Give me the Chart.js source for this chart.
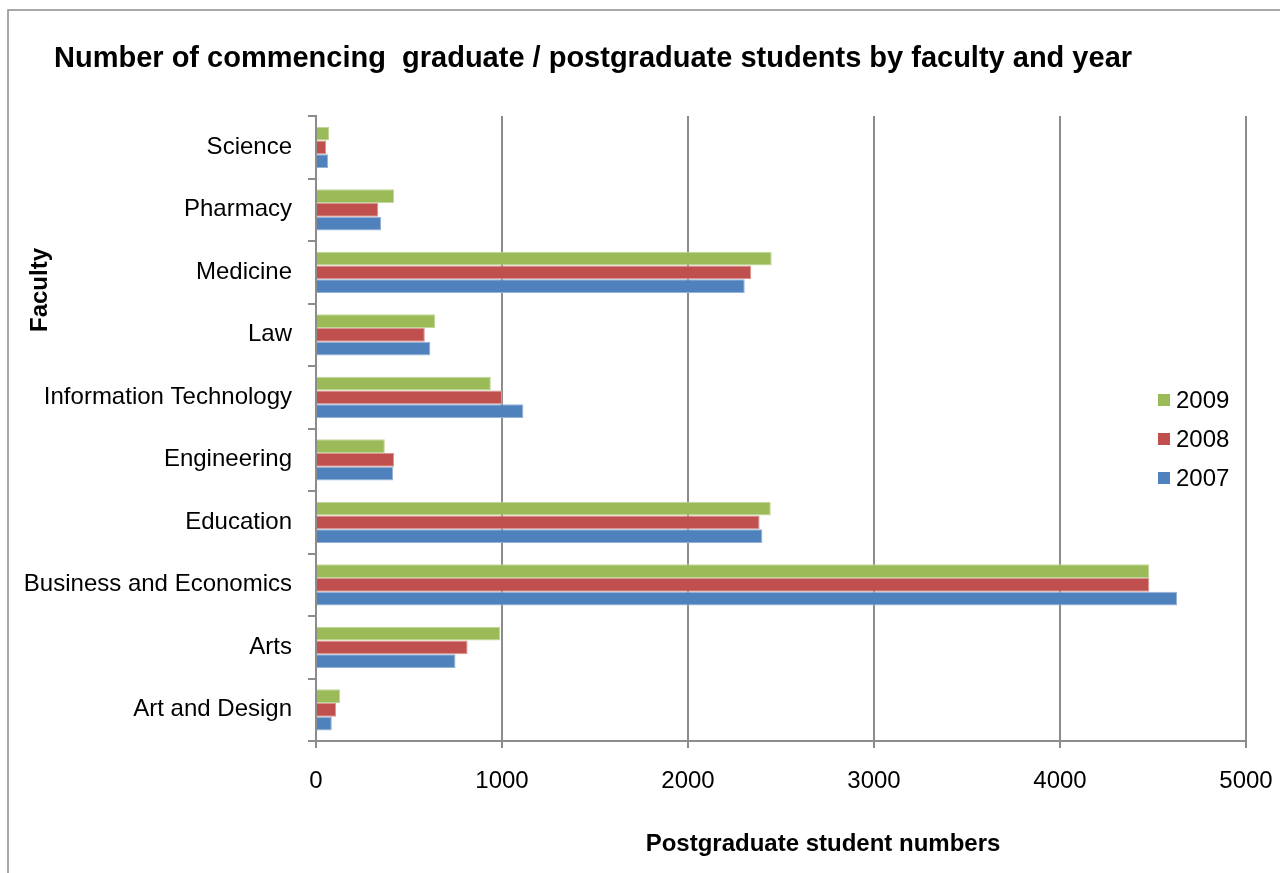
<!DOCTYPE html>
<html>
<head>
<meta charset="utf-8">
<title>Commencing postgraduate students by faculty</title>
<script src="https://cdn.jsdelivr.net/npm/chart.js@4/dist/chart.umd.min.js"></script>
<style>
  body { margin: 0; background: #fff; }
  #wrap { width: 1280px; height: 873px; }
</style>
</head>
<body>
<div id="wrap"><canvas id="chart-canvas" width="1280" height="873"></canvas></div>
<script>
// Chart data (faculties listed top to bottom as shown)
const faculties = ['Science', 'Pharmacy', 'Medicine', 'Law', 'Information Technology',
  'Engineering', 'Education', 'Business and Economics', 'Arts', 'Art and Design'];
const years = ['2009', '2008', '2007'];
const students2009 = [70, 420, 2450, 640, 940, 370, 2445, 4480, 990, 130];
const students2008 = [55, 335, 2340, 585, 1000, 420, 2385, 4480, 815, 108];
const students2007 = [65, 350, 2305, 615, 1115, 415, 2400, 4630, 750, 85];

const chartTitle = 'Number of commencing  graduate / postgraduate students by faculty and year';
const xTitle = 'Postgraduate student numbers';
const yTitle = 'Faculty';

const FONT = '"Liberation Sans", Arial, sans-serif';
const GRID = '#8c8c8c';

// Draws frame, titles and the in-plot legend
const decorations = {
  id: 'decorations',
  beforeDraw(chart) {
    const ctx = chart.ctx;
    ctx.save();
    ctx.fillStyle = '#fff';
    ctx.fillRect(0, 0, chart.width, chart.height);
    ctx.strokeStyle = GRID;
    ctx.lineWidth = 1.5;
    ctx.strokeRect(8, 10, 1400, 1000);
    ctx.restore();
  },
  afterDraw(chart) {
    const ctx = chart.ctx;
    ctx.save();
    ctx.fillStyle = '#000';
    ctx.textBaseline = 'middle';

    ctx.font = 'bold 29px ' + FONT;
    ctx.textAlign = 'left';
    ctx.fillText(chartTitle, 54, 59);

    ctx.font = 'bold 24px ' + FONT;
    ctx.textAlign = 'center';
    ctx.fillText(xTitle, 823, 844);

    ctx.translate(40, 290);
    ctx.rotate(-Math.PI / 2);
    ctx.fillText(yTitle, 0, 0);
    ctx.restore();

    // legend
    ctx.save();
    ctx.font = '24px ' + FONT;
    ctx.textBaseline = 'middle';
    ctx.textAlign = 'left';
    chart.data.datasets.forEach((ds, i) => {
      const y = 400 + i * 39;
      ctx.fillStyle = ds.backgroundColor;
      ctx.fillRect(1158, y - 6, 12, 12);
      ctx.fillStyle = '#000';
      ctx.fillText(ds.label, 1176, y + 1);
    });
    ctx.restore();
  }
};

const ctx = document.getElementById('chart-canvas').getContext('2d');
const chart = new Chart(ctx, {
  type: 'bar',
  data: {
    labels: faculties,
    datasets: [
      { label: years[0], data: students2009, backgroundColor: '#9bbb59', borderColor: '#c2d69a', borderWidth: 1 },
      { label: years[1], data: students2008, backgroundColor: '#c0504d', borderColor: '#d99593', borderWidth: 1 },
      { label: years[2], data: students2007, backgroundColor: '#4f81bd', borderColor: '#94b2d6', borderWidth: 1 }
    ]
  },
  options: {
    indexAxis: 'y',
    responsive: false,
    animation: false,
    categoryPercentage: 0.66,
    barPercentage: 1,
    layout: { padding: { top: 116, right: 34, bottom: 0, left: 0 } },
    plugins: {
      legend: { display: false },
      title: { display: false },
      tooltip: { enabled: false }
    },
    scales: {
      x: {
        min: 0,
        max: 5000,
        ticks: {
          stepSize: 1000,
          color: '#000',
          padding: 19,
          font: { family: FONT, size: 24 },
          callback: value => String(value)
        },
        grid: { color: GRID, lineWidth: 2, tickLength: 7 },
        border: { color: GRID, width: 2 },
        afterFit: scale => {
          scale.height = 132;
          scale.paddingLeft = 0;
          scale.paddingRight = 0;
        }
      },
      y: {
        ticks: {
          color: '#000',
          padding: 16,
          font: { family: FONT, size: 24 }
        },
        grid: { offset: true, drawOnChartArea: false, color: GRID, lineWidth: 2, tickLength: 8 },
        border: { color: GRID, width: 2 },
        afterFit: scale => { scale.width = 316; }
      }
    }
  },
  plugins: [decorations]
});
</script>
</body>
</html>
